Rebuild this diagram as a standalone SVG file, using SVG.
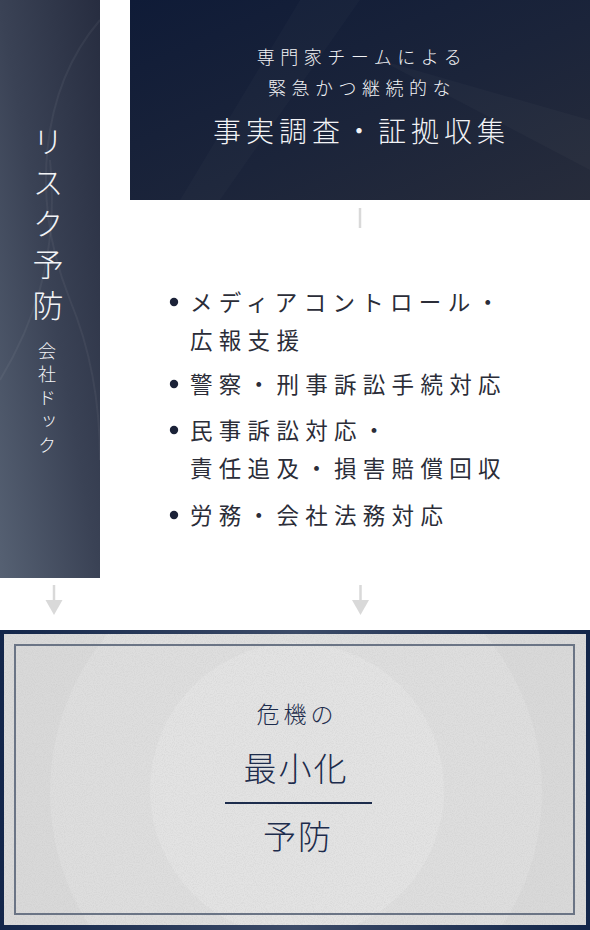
<svg xmlns="http://www.w3.org/2000/svg" width="590" height="930" viewBox="0 0 590 930">
  <style>
    .jp { font-family: "Noto Sans CJK JP", "Noto Sans", sans-serif; font-weight: 300; }
    .w { fill: #f2f3f6; }
    .item { fill: #2b2d38; font-size: 22.5px; letter-spacing: 6.3px; font-weight: 400; }
    .dot { fill: #1b2238; }
    .navytxt { fill: #1d2c4c; }
    .conn { stroke: #d9d9d9; stroke-width: 2.5; fill: none; }
    .head { fill: #d9d9d9; }
  </style>
  <defs>
    <linearGradient id="gLeft" x1="1" y1="0" x2="0" y2="1">
      <stop offset="0" stop-color="#272d40"/>
      <stop offset="0.5" stop-color="#3a4255"/>
      <stop offset="1" stop-color="#566173"/>
    </linearGradient>
    <linearGradient id="gTop" x1="0" y1="0" x2="1" y2="1">
      <stop offset="0" stop-color="#0f1b37"/>
      <stop offset="0.55" stop-color="#1b243a"/>
      <stop offset="1" stop-color="#272c3b"/>
    </linearGradient>
    <linearGradient id="gFrame" x1="0" y1="0" x2="1" y2="0">
      <stop offset="0" stop-color="#13264a"/>
      <stop offset="0.5" stop-color="#3c4b68"/>
      <stop offset="1" stop-color="#13264a"/>
    </linearGradient>
    <filter id="noise" x="0" y="0" width="100%" height="100%">
      <feTurbulence type="fractalNoise" baseFrequency="0.9" numOctaves="2" seed="3" result="t"/>
      <feColorMatrix type="matrix" values="0 0 0 0 0.5  0 0 0 0 0.5  0 0 0 0 0.5  0 0 0 -1.2 0.75" />
    </filter>
  </defs>

  <rect width="590" height="930" fill="#ffffff"/>

  <!-- Left bar -->
  <g id="node-risk-prevention">
    <rect x="0" y="0" width="100" height="578" fill="url(#gLeft)"/>
    <path d="M100,20 C40,90 30,200 70,300 C95,360 100,420 100,460" fill="none" stroke="#ffffff" stroke-opacity="0.05" stroke-width="2"/>
    <path d="M0,380 C30,330 60,260 50,160" fill="none" stroke="#ffffff" stroke-opacity="0.05" stroke-width="2"/>
    <text class="jp w" x="48" y="126" font-size="31" letter-spacing="10" writing-mode="vertical-rl">リスク予防</text>
    <text class="jp w" x="47" y="342" font-size="18" letter-spacing="5.5" writing-mode="vertical-rl">会社ドック</text>
  </g>

  <!-- Top box -->
  <g id="node-investigation">
    <rect x="130" y="0" width="460" height="200" fill="url(#gTop)"/>
    <polygon points="300,0 360,0 220,200 180,200" fill="#ffffff" fill-opacity="0.02"/>
    <polygon points="380,60 590,120 590,170" fill="#ffffff" fill-opacity="0.025"/>
    <text class="jp w" x="362" y="64" font-size="18" letter-spacing="5.5" text-anchor="middle">専門家チームによる</text>
    <text class="jp w" x="362" y="95" font-size="18" letter-spacing="5.5" text-anchor="middle">緊急かつ継続的な</text>
    <text class="jp w" x="361.5" y="142" font-size="28" letter-spacing="5" text-anchor="middle" font-weight="400">事実調査・証拠収集</text>
  </g>

  <!-- List -->
  <g id="node-services">
    <circle class="dot" cx="174" cy="302" r="4.2"/>
    <text class="jp item" x="190" y="311">メディアコントロール・</text>
    <text class="jp item" x="190" y="349">広報支援</text>
    <circle class="dot" cx="174" cy="384" r="4.2"/>
    <text class="jp item" x="190" y="393">警察・刑事訴訟手続対応</text>
    <circle class="dot" cx="174" cy="430" r="4.2"/>
    <text class="jp item" x="190" y="439">民事訴訟対応・</text>
    <text class="jp item" x="190" y="477">責任追及・損害賠償回収</text>
    <circle class="dot" cx="174" cy="515" r="4.2"/>
    <text class="jp item" x="190" y="524">労務・会社法務対応</text>
  </g>

  <!-- Connectors -->
  <g id="connectors">
    <line class="conn" x1="360" y1="208" x2="360" y2="228" stroke-width="3"/>
    <line class="conn" x1="54" y1="585" x2="54" y2="603"/>
    <polygon class="head" points="45.5,600 62.5,600 54,615"/>
    <line class="conn" x1="360.5" y1="585" x2="360.5" y2="603"/>
    <polygon class="head" points="352,600 369,600 360.5,615"/>
  </g>

  <!-- Bottom box -->
  <g id="node-result">
    <rect x="0" y="630" width="590" height="300" fill="url(#gFrame)"/>
    <rect x="4" y="634" width="582" height="291" fill="#d9d9d9"/>
    <clipPath id="clipB"><rect x="4" y="634" width="582" height="291"/></clipPath>
    <g clip-path="url(#clipB)">
      <circle cx="296" cy="792" r="246" fill="#dedede"/>
      <circle cx="297" cy="790" r="147" fill="#e3e3e3"/>
      <rect x="4" y="634" width="582" height="291" filter="url(#noise)" opacity="0.45"/>
    </g>
    <rect x="15" y="645" width="559" height="269" fill="none" stroke="#6a7485" stroke-width="2"/>
    <text class="jp navytxt" x="297" y="723" font-size="23" letter-spacing="4" text-anchor="middle">危機の</text>
    <text class="jp navytxt" x="296" y="781" font-size="33" letter-spacing="2" text-anchor="middle">最小化</text>
    <line x1="225" y1="803" x2="372" y2="803" stroke="#1d2c4c" stroke-width="2"/>
    <text class="jp navytxt" x="298" y="849" font-size="33" letter-spacing="2" text-anchor="middle">予防</text>
  </g>
</svg>
